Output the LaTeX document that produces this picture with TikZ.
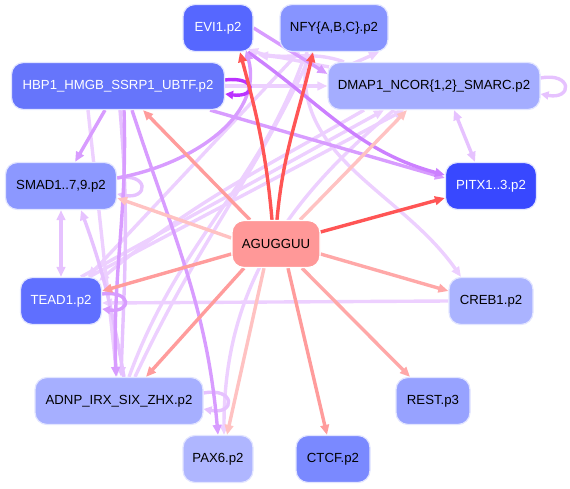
\documentclass[tikz,border=0pt]{standalone}
\usepackage{fontspec}
\setmainfont{Liberation Sans}
\usetikzlibrary{arrows.meta}
\pgfdeclarelayer{bg}
\pgfsetlayers{bg,main}
\definecolor{cEVI}{HTML}{5667FF}
\definecolor{cNFY}{HTML}{8794FF}
\definecolor{cHBP}{HTML}{6675FB}
\definecolor{cDMAP}{HTML}{A4ADFF}
\definecolor{cSMAD}{HTML}{8C98FF}
\definecolor{cPITX}{HTML}{3848FF}
\definecolor{cAG}{HTML}{FF9898}
\definecolor{cTEAD}{HTML}{5F6FFF}
\definecolor{cCREB}{HTML}{AAB3FF}
\definecolor{cADNP}{HTML}{A6AFFF}
\definecolor{cREST}{HTML}{97A2FF}
\definecolor{cPAX}{HTML}{AFB6FF}
\definecolor{cCTCF}{HTML}{7A89FF}
\definecolor{bord}{HTML}{E2E5FF}
\definecolor{rA}{HTML}{FF5555}
\definecolor{rB}{HTML}{FF9C9C}
\definecolor{rC}{HTML}{FFA8A8}
\definecolor{rD}{HTML}{FFC2C2}
\definecolor{pA}{HTML}{BB33FF}
\definecolor{pB}{HTML}{CC80FF}
\definecolor{pC}{HTML}{D89CFF}
\definecolor{pD}{HTML}{E6C2FF}
\definecolor{pE}{HTML}{EDD0FF}
\tikzset{
  tf/.style={rectangle, rounded corners=12pt, minimum height=47pt, draw=bord, line width=1.2pt, inner sep=0pt, font=\fontsize{13.2}{15}\selectfont},
  e/.style={line width=3.4pt, -{Triangle[length=10pt,width=8.5pt]}},
  ee/.style={line width=3.4pt, {Triangle[length=10pt,width=8.5pt]}-{Triangle[length=10pt,width=8.5pt]}},
  lp/.style={line width=3.4pt, -{Triangle[length=8pt,width=8pt]}},
}
\begin{document}
\begin{tikzpicture}[x=1pt,y=-1pt]
\useasboundingbox (0,0) rectangle (570,489);
% nodes
\node[tf, fill=cEVI, text=white, minimum width=70pt] (EVI) at (218,28) {EVI1.p2};
\node[tf, fill=cNFY, minimum width=108pt] (NFY) at (334,28) {NFY\{A,B,C\}.p2};
\node[tf, fill=cHBP, text=white, minimum width=213pt] (HBP) at (118,86) {HBP1\_HMGB\_SSRP1\_UBTF.p2};
\node[tf, fill=cDMAP, minimum width=212pt] (DMAP) at (434,86) {DMAP1\_NCOR\{1,2\}\_SMARC.p2};
\node[tf, fill=cSMAD, minimum width=111pt] (SMAD) at (61,186) {SMAD1..7,9.p2};
\node[tf, fill=cPITX, text=white, minimum width=91pt] (PITX) at (491,186) {PITX1..3.p2};
\node[tf, fill=cAG, draw=white, minimum width=88pt] (AG) at (276,244) {AGUGGUU};
\node[tf, fill=cTEAD, text=white, minimum width=81pt] (TEAD) at (61,301) {TEAD1.p2};
\node[tf, fill=cCREB, minimum width=84pt] (CREB) at (491,301) {CREB1.p2};
\node[tf, fill=cADNP, minimum width=168pt] (ADNP) at (119,401) {ADNP\_IRX\_SIX\_ZHX.p2};
\node[tf, fill=cREST, minimum width=74pt] (REST) at (433,401) {REST.p3};
\node[tf, fill=cPAX, minimum width=70pt] (PAX) at (218,459) {PAX6.p2};
\node[tf, fill=cCTCF, minimum width=74pt] (CTCF) at (333,459) {CTCF.p2};
\begin{pgfonlayer}{bg}
% light purple edges
\path[e, draw=pE] ([xshift=-30pt]HBP.south) -- ([xshift=-2pt]ADNP.north);
\path[e, draw=pE] ([xshift=20pt]TEAD.north) -- ([xshift=-50pt]DMAP.south);
\path[e, draw=pE] ([xshift=28pt]TEAD.north) -- ([xshift=-30pt]DMAP.south);
\path[e, draw=pE] ([xshift=10pt]ADNP.north) to[out=70,in=-110] ([xshift=-28pt]NFY.south);
\path[e, draw=pE] ([xshift=16pt]ADNP.north) to[out=65,in=-115] ([xshift=-22pt]NFY.south);
\path[e, draw=pE] ([xshift=-27pt]NFY.south) to[out=-100,in=125] ([xshift=-30pt]CREB.north);
\path[e, draw=pE] (CREB.west) -- ([yshift=-2pt]TEAD.east);
\path[e, draw=pE] ([xshift=-35pt]NFY.south) -- ([xshift=27pt]TEAD.north);
\path[e, draw=pE] ([xshift=-70pt]DMAP.south) to[out=-150,in=40] ([xshift=38pt,yshift=-4pt]TEAD.north);
\path[e, draw=pE] (HBP.east) -- (DMAP.west);
\path[e, draw=pE] ([xshift=-100pt,yshift=-10pt]DMAP.north) -- ([xshift=45pt]NFY.south);
\path[e, draw=pE] ([xshift=-90pt]DMAP.north) to[out=160,in=-20] ([xshift=30pt,yshift=3pt]EVI.south);
\path[e, draw=pE] ([xshift=-105pt,yshift=-5pt]DMAP.north) to[out=170,in=-5] ([xshift=40pt,yshift=-3pt]EVI.south);
\path[ee, draw=pD] ([xshift=20pt]DMAP.south) -- ([xshift=-16pt]PITX.north);
\path[ee, draw=pD] (SMAD.south) -- (TEAD.north);
\path[e, draw=pD] ([xshift=5pt]ADNP.north) to[out=100,in=-70] ([xshift=20pt]SMAD.south);
\path[e, draw=pD] ([xshift=2pt]HBP.south) to[out=-85,in=88] ([xshift=2pt]ADNP.north);
\path[e, draw=pE] ([xshift=-40pt]DMAP.south) to[out=-140,in=90] ([xshift=6pt]PAX.north);
\draw[lp, pD] ([yshift=8pt]SMAD.east) .. controls +(32pt,6pt) and +(32pt,-6pt) .. ([yshift=-8pt]SMAD.east);
\draw[lp, pD] ([yshift=8pt]ADNP.east) .. controls +(32pt,6pt) and +(32pt,-6pt) .. ([yshift=-8pt]ADNP.east);
\draw[lp, pD] ([yshift=8pt]DMAP.east) .. controls +(32pt,6pt) and +(32pt,-6pt) .. ([yshift=-8pt]DMAP.east);
% medium purple edges
\path[e, draw=pC] ([xshift=-13pt]HBP.south) -- ([xshift=-42pt]SMAD.north east);
\path[e, draw=pC] ([xshift=6pt]HBP.south) to[out=-88,in=92] ([xshift=-3pt]ADNP.north);
\path[e, draw=pC] ([xshift=14pt]HBP.south) to[out=-72,in=95] (PAX.north);
\path[e, draw=pC] ([xshift=-15pt]HBP.south east) -- ([yshift=8pt]PITX.west);
\path[e, draw=pB] ([xshift=30pt]EVI.south) to[out=-35,in=165] ([yshift=11pt]PITX.west);
\path[e, draw=pC] (EVI.east) -- ([yshift=12pt]DMAP.west);
\path[e, draw=pC] ([yshift=8pt]SMAD.east) to[out=10,in=-75] ([xshift=28pt,yshift=2pt]EVI.south);
\draw[lp, pC] ([yshift=7pt]TEAD.east) .. controls +(30pt,4pt) and +(30pt,-4pt) .. ([yshift=-8pt]TEAD.east);
\draw[lp, pA] ([yshift=6pt]HBP.east) .. controls +(32pt,4pt) and +(32pt,-4pt) .. ([yshift=-8pt]HBP.east);
% red edges
\path[e, draw=rD] ([yshift=6pt]AG.west) -- ([yshift=-12pt]SMAD.east);
\path[e, draw=rD] ([xshift=24pt]AG.north) -- ([xshift=-27pt]DMAP.south);
\path[e, draw=rD] ([xshift=-12pt]AG.south) -- ([xshift=9pt]PAX.north);
\path[e, draw=rB] ([xshift=-26pt]AG.north) -- ([xshift=25pt]HBP.south);
\path[e, draw=rB] ([yshift=-10pt]AG.west) -- ([yshift=10pt]TEAD.east);
\path[e, draw=rB] ([xshift=-32pt]AG.south) -- ([xshift=27pt]ADNP.north);
\path[e, draw=rB] ([xshift=12pt]AG.south) -- ([xshift=-6pt]CTCF.north);
\path[e, draw=rC] ([yshift=-10pt]AG.east) -- ([yshift=10pt]CREB.west);
\path[e, draw=rC] ([xshift=26pt]AG.south) -- ([xshift=-23pt]REST.north);
\path[e, draw=rA] ([yshift=12pt]AG.east) -- ([yshift=-12pt]PITX.west);
\path[e, draw=rA] ([xshift=-4pt]AG.north) to[out=95,in=-75] ([xshift=22pt]EVI.south);
\path[e, draw=rA] ([xshift=1pt]AG.north) to[out=85,in=-103] ([xshift=-21pt]NFY.south);
\end{pgfonlayer}
\end{tikzpicture}
\end{document}
